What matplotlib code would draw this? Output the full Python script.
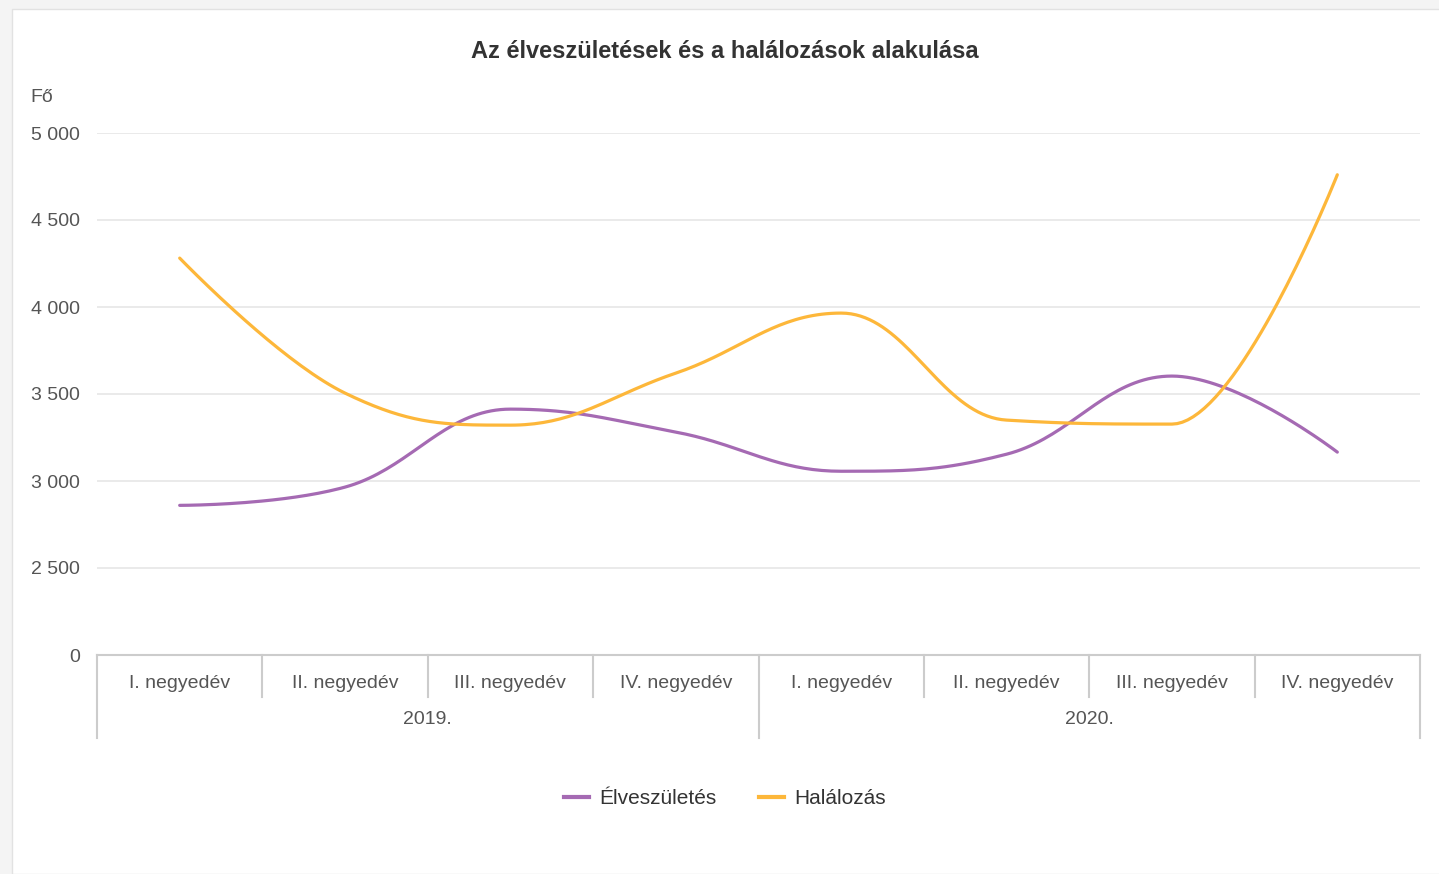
import numpy as np
import matplotlib
matplotlib.use("Agg")
import matplotlib.pyplot as plt
from matplotlib.patches import Rectangle
from matplotlib.lines import Line2D

plt.rcParams['font.family'] = ['Liberation Sans', 'DejaVu Sans']

quarters = ["I. negyedév", "II. negyedév", "III. negyedév", "IV. negyedév"] * 2
years = ["2019.", "2020."]
births = [2860, 2965, 3413, 3281, 3056, 3154, 3603, 3166]
deaths = [4281, 3505, 3321, 3620, 3965, 3350, 3327, 4760]
ytick_vals = [2000, 2500, 3000, 3500, 4000, 4500, 5000]
ytick_labels = ["0", "2 500", "3 000", "3 500", "4 000", "4 500", "5 000"]


def spline_path(xs, ys, n=40):
    # Highcharts-style spline: bezier control points from neighbours
    xs = np.asarray(xs, float)
    ys = np.asarray(ys, float)
    m = len(xs)
    lc = [(x, y) for x, y in zip(xs, ys)]
    rc = [(x, y) for x, y in zip(xs, ys)]
    sm, den = 1.5, 2.5
    for i in range(1, m - 1):
        px, py = xs[i], ys[i]
        lx, ly = xs[i - 1], ys[i - 1]
        nx, ny = xs[i + 1], ys[i + 1]
        lcx, lcy = (sm * px + lx) / den, (sm * py + ly) / den
        rcx, rcy = (sm * px + nx) / den, (sm * py + ny) / den
        corr = (rcy - lcy) * (rcx - px) / (rcx - lcx) + py - rcy
        lcy += corr
        rcy += corr
        if lcy > ly and lcy > py:
            lcy = max(ly, py)
            rcy = 2 * py - lcy
        elif lcy < ly and lcy < py:
            lcy = min(ly, py)
            rcy = 2 * py - lcy
        if rcy > ny and rcy > py:
            rcy = max(ny, py)
            lcy = 2 * py - rcy
        elif rcy < ny and rcy < py:
            rcy = min(ny, py)
            lcy = 2 * py - rcy
        lc[i] = (lcx, lcy)
        rc[i] = (rcx, rcy)
    t = np.linspace(0, 1, n)[:, None]
    pts = []
    for i in range(m - 1):
        p0 = np.array([xs[i], ys[i]])
        p1 = np.array(rc[i])
        p2 = np.array(lc[i + 1])
        p3 = np.array([xs[i + 1], ys[i + 1]])
        seg = ((1 - t) ** 3) * p0 + 3 * ((1 - t) ** 2) * t * p1 + 3 * (1 - t) * t ** 2 * p2 + t ** 3 * p3
        pts.append(seg if i == 0 else seg[1:])
    pts = np.vstack(pts)
    return pts[:, 0], pts[:, 1]


W, H = 1439, 874
fig = plt.figure(figsize=(W / 100, H / 100), dpi=100)
fig.patch.set_facecolor("#f4f4f4")
fig.patches.append(Rectangle((12 / W, 0), 1, 1 - 9 / H, transform=fig.transFigure,
                             facecolor="white", edgecolor="#e2e2e2", lw=1, zorder=-5))

ax = fig.add_axes([97 / W, 1 - 655 / H, (1420 - 97) / W, (655 - 133) / H])
ax.set_facecolor("none")
ax.set_zorder(2)

purple = "#a56ab3"
yellow = "#fdb73a"
x = np.arange(len(births))
bx, by = spline_path(x, births)
dx, dy = spline_path(x, deaths)
ax.plot(bx, by, color=purple, lw=2.3, solid_capstyle="round", zorder=3, clip_on=False)
ax.plot(dx, dy, color=yellow, lw=2.3, solid_capstyle="round", zorder=3, clip_on=False)

ax.set_xlim(-0.5, 7.5)
ax.set_ylim(2000, 5000)
ax.set_yticks(ytick_vals)
ax.set_yticklabels(ytick_labels)
ax.tick_params(axis="y", length=0, pad=12, labelsize=14, labelcolor="#555555")
for v in ytick_vals[1:]:
    ax.axhline(v, color="#e6e6e6", lw=1.2, zorder=1)
for s in ["top", "right", "left"]:
    ax.spines[s].set_visible(False)
ax.spines["bottom"].set_color("#cccccc")
ax.spines["bottom"].set_linewidth(1.5)
ax.set_xticks([])

# category tick lines
tr = ax.get_xaxis_transform()
ah = (655 - 133)
for b in np.arange(-0.5, 8.0, 1.0):
    depth = 83 / ah if b in (-0.5, 3.5, 7.5) else 42 / ah
    ax.plot([b, b], [0, -depth], transform=tr, color="#cccccc", lw=1.5, clip_on=False)
for i, q in enumerate(quarters):
    ax.text(i, -29 / ah, q, transform=tr, ha="center", va="center", fontsize=14, color="#555555")
for j, yr in enumerate(years):
    ax.text(1.5 + 4 * j, -65 / ah, yr, transform=tr, ha="center", va="center", fontsize=14, color="#555555")

fig.text(30 / W, 1 - 97 / H, "Fő", ha="left", va="center", fontsize=14, color="#555555")
fig.text(725 / W, 1 - 52 / H, "Az élveszületések és a halálozások alakulása", ha="center", va="center",
         fontsize=17, fontweight="bold", color="#333333")

handles = [Line2D([], [], color=purple, lw=3), Line2D([], [], color=yellow, lw=3)]
fig.legend(handles, ["Élveszületés", "Halálozás"], loc="center", bbox_to_anchor=(725 / W, 1 - 799 / H),
           ncol=2, frameon=False, fontsize=15, handlelength=1.2, handletextpad=0.5, columnspacing=2.0,
           labelcolor="#333333")

fig.savefig("out.png", dpi=100, facecolor=fig.get_facecolor())
